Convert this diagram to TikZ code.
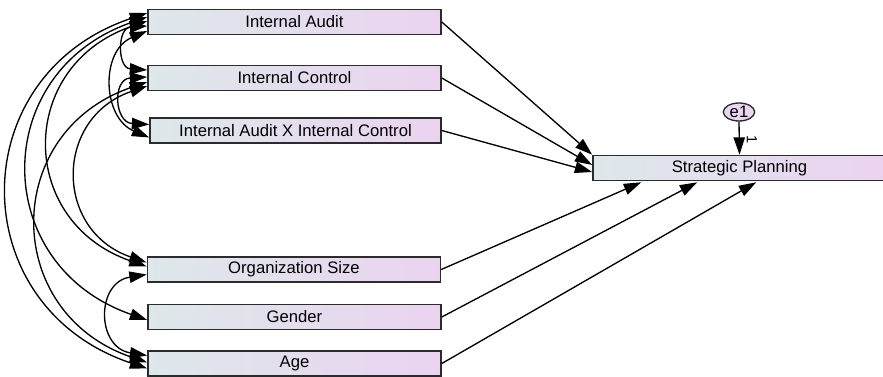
\documentclass[tikz,border=0pt]{standalone}
\usepackage{fontspec}
\setmainfont{Liberation Sans}
\usetikzlibrary{arrows.meta,calc,shapes.geometric}
\definecolor{boxleft}{HTML}{DDE8EA}
\definecolor{boxright}{HTML}{EBD3F0}
\definecolor{boxline}{HTML}{2B2B2B}
\definecolor{errfill}{HTML}{E9D6F0}
\tikzset{
  var/.style={rectangle, draw=boxline, line width=1.2pt, left color=boxleft, right color=boxright,
    minimum width=219.75pt, minimum height=18.75pt, inner sep=0pt,
    font=\fontsize{12.5}{14}\selectfont},
  errvar/.style={ellipse, draw=boxline, line width=1pt, fill=errfill,
    minimum width=23.5pt, minimum height=13.5pt, inner sep=0pt,
    font=\fontsize{12.5}{14}\selectfont},
  tip/.tip={Triangle[length=13pt,width=8.5pt]},
  path/.style={-tip, line width=1pt, black},
  cov/.style={tip-tip, line width=1pt, black},
}
\begin{document}
\begin{tikzpicture}[x=0.75pt,y=-0.75pt]
\clip (0,0) rectangle (883,377);
\fill[white] (0,0) rectangle (883,377);
% exogenous variables
\node[var] (ia)   at (294.5,22)    {Internal Audit};
\node[var] (ic)   at (294.5,78)    {Internal Control};
\node[var, minimum width=218.25pt] (iaic) at (295.5,130.5) {Internal Audit X Internal Control};
\node[var] (os)   at (294,269.5)   {Organization Size};
\node[var] (gen)  at (294.5,317)   {Gender};
\node[var] (age)  at (294.5,363.5) {Age};
% endogenous variable
\node[var] (sp) at (739.5,168) {Strategic Planning};
\node[errvar] (e1) at (739,112) {e1};
\node[rotate=-90, font=\fontsize{11}{12}\selectfont, inner sep=0pt] (one) at (752,140) {1};
% regression paths
\draw[path] (ia.east) -- (sp.north west);
\draw[path] (ic.east) -- ($(sp.west)+(0,-3)$);
\draw[path] (iaic.east) -- ($(sp.west)+(0,4)$);
\draw[path] (os.east) -- ($(sp.south west)+(49,1)$);
\draw[path] (gen.east) -- ($(sp.south west)+(105,1)$);
\draw[path] (age.east) -- ($(sp.south west)+(164,1)$);
\draw[path] (e1.south) -- (sp.north);
% covariances
\draw[cov] ($(ia.west)+(0,-9)$) .. controls +(-185,62) and +(-185,-62) .. ($(age.west)+(0,5)$);
\draw[cov] ($(ia.west)+(0,-5)$) .. controls +(-158,55) and +(-158,-55) .. ($(gen.west)+(0,3)$);
\draw[cov] ($(ia.west)+(0,-1)$) .. controls +(-130,45) and +(-130,-45) .. ($(os.west)+(0,-3)$);
\draw[cov] ($(ic.west)+(0,4)$) .. controls +(-146,50) and +(-146,-50) .. ($(age.west)+(0,-1)$);
\draw[cov] ($(ic.west)+(0,8)$) .. controls +(-93,32) and +(-93,-32) .. ($(os.west)+(0,-7)$);
\draw[cov] ($(os.west)+(0,5)$) .. controls +(-51,8) and +(-51,-8) .. ($(age.west)+(0,-8)$);
\draw[cov] ($(ia.west)+(0,4)$) .. controls +(-30,2) and +(-30,-2) .. ($(ic.west)+(0,-8)$);
\draw[cov] ($(ia.west)+(0,9)$) .. controls +(-47,20) and +(-47,-20) .. ($(iaic.west)+(0,7)$);
\draw[cov] ($(ic.west)+(0,-1)$) .. controls +(-35,2) and +(-35,-2) .. ($(iaic.west)+(0,-6)$);
\end{tikzpicture}
\end{document}
